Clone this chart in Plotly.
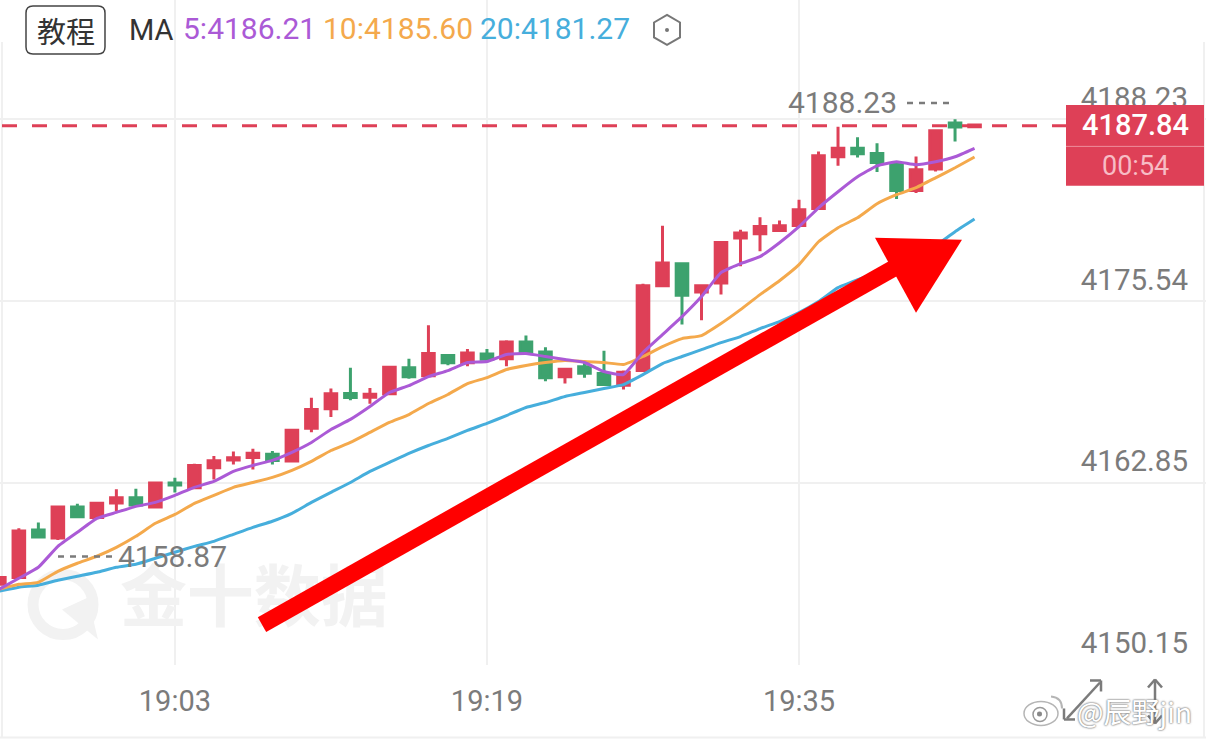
import plotly.graph_objects as go
import pandas as pd

W = 1206
H = 742
PLOT_BOTTOM = 665.5

times = [str(t) for t in pd.date_range('2025-01-06 18:54', periods=51, freq='min')]

opens = [4155.78, 4156.25, 4159.57, 4159.01, 4161.17, 4160.45, 4161.45, 4161.83, 4161.17, 4162.85,
         4162.52, 4163.92, 4164.45, 4164.64, 4164.85, 4164.38, 4166.68, 4168.03, 4169.10, 4168.84,
         4169.08, 4170.89, 4170.33, 4171.75, 4171.24, 4171.86, 4171.52, 4172.70, 4172.00, 4170.26,
         4170.96, 4170.49, 4169.68, 4170.70, 4176.62, 4178.16, 4176.19, 4176.81, 4179.95, 4180.25,
         4180.48, 4180.83, 4182.01, 4185.62, 4186.22, 4185.85, 4185.11, 4183.27, 4184.76, 4187.97,
         4187.72]
closes = [4156.25, 4159.50, 4159.08, 4161.17, 4160.50, 4161.43, 4161.83, 4161.31, 4162.85, 4162.71,
          4164.08, 4164.41, 4164.62, 4164.92, 4164.43, 4166.54, 4167.98, 4169.08, 4168.82, 4169.05,
          4170.93, 4170.26, 4171.89, 4171.24, 4171.93, 4171.49, 4172.70, 4172.00, 4170.19, 4170.79,
          4170.51, 4169.72, 4170.58, 4176.62, 4178.21, 4175.95, 4176.62, 4179.64, 4180.30, 4180.76,
          4180.81, 4181.92, 4185.69, 4186.22, 4185.83, 4185.22, 4183.27, 4184.71, 4187.43, 4187.69,
          4187.84]
highs = [4156.25, 4159.69, 4160.09, 4161.17, 4161.41, 4161.43, 4162.41, 4162.45, 4162.91, 4163.22,
         4164.20, 4164.73, 4165.05, 4165.24, 4165.08, 4166.54, 4168.80, 4169.45, 4170.89, 4169.49,
         4171.00, 4171.52, 4173.86, 4171.82, 4172.21, 4172.21, 4172.81, 4173.14, 4172.32, 4170.89,
         4171.24, 4172.09, 4170.70, 4176.76, 4180.81, 4178.16, 4176.62, 4179.74, 4180.53, 4181.39,
         4181.18, 4182.62, 4185.99, 4187.71, 4186.99, 4186.57, 4185.18, 4185.64, 4187.43, 4188.23,
         4187.84]
lows = [4155.78, 4156.25, 4158.99, 4158.87, 4160.50, 4160.45, 4160.89, 4161.31, 4161.17, 4162.18,
        4162.52, 4163.10, 4164.15, 4163.80, 4164.15, 4164.38, 4166.40, 4167.45, 4168.63, 4168.38,
        4169.08, 4170.12, 4170.33, 4171.07, 4171.00, 4171.28, 4171.00, 4172.00, 4169.95, 4169.79,
        4170.19, 4169.72, 4169.38, 4170.70, 4176.53, 4173.91, 4174.21, 4176.00, 4177.97, 4179.02,
        4180.37, 4180.83, 4182.01, 4184.99, 4185.57, 4184.55, 4182.67, 4183.09, 4184.59, 4186.68,
        4187.72]

ma5 = [4155.44, 4156.20, 4156.97, 4158.43, 4159.41, 4160.38, 4160.80, 4161.22, 4161.50, 4161.99,
       4162.55, 4162.96, 4163.66, 4164.08, 4164.43, 4164.99, 4165.68, 4166.59, 4167.29, 4168.19,
       4169.17, 4169.65, 4170.28, 4170.70, 4171.26, 4171.33, 4171.82, 4171.89, 4171.68, 4171.47,
       4171.26, 4170.63, 4170.42, 4171.96, 4173.21, 4174.46, 4175.86, 4177.53, 4178.16, 4178.65,
       4179.62, 4180.74, 4182.06, 4183.18, 4184.22, 4184.99, 4185.27, 4185.06, 4185.27, 4185.62,
       4186.21]
ma10 = [4155.44, 4155.78, 4155.92, 4156.69, 4157.25, 4157.74, 4158.36, 4159.13, 4160.04, 4160.66,
        4161.43, 4161.99, 4162.55, 4162.89, 4163.24, 4163.73, 4164.36, 4165.12, 4165.68, 4166.38,
        4167.08, 4167.63, 4168.40, 4169.03, 4169.79, 4170.21, 4170.77, 4171.05, 4171.26, 4171.40,
        4171.33, 4171.26, 4171.12, 4171.68, 4172.37, 4172.93, 4173.14, 4173.98, 4174.95, 4176.00,
        4176.97, 4178.09, 4179.69, 4180.67, 4181.36, 4182.34, 4182.97, 4183.46, 4184.15, 4184.85,
        4185.60]
ma20 = [4155.30, 4155.58, 4155.72, 4156.06, 4156.34, 4156.62, 4156.97, 4157.18, 4157.60, 4158.02,
        4158.43, 4158.78, 4159.27, 4159.76, 4160.18, 4160.73, 4161.50, 4162.20, 4162.89, 4163.66,
        4164.29, 4164.92, 4165.47, 4165.96, 4166.52, 4167.01, 4167.56, 4168.12, 4168.47, 4168.89,
        4169.17, 4169.45, 4169.72, 4170.42, 4171.19, 4171.68, 4172.16, 4172.65, 4173.07, 4173.63,
        4174.12, 4174.74, 4175.51, 4176.49, 4177.04, 4177.53, 4178.09, 4178.58, 4179.41, 4180.39,
        4181.27]

y_ticks = [4188.23, 4175.54, 4162.85, 4150.15]
x_ticks = ['2025-01-06 19:03', '2025-01-06 19:19', '2025-01-06 19:35']
x_labels = ['19:03', '19:19', '19:35']

RED = '#DE4057'
GREEN = '#3DA26E'
PURPLE = '#AB5AD6'
ORANGE = '#F4A94C'
BLUE = '#46AEDC'
GREY = '#7B7B7B'
GRID = '#F0F0F0'
MARK = '#F2F2F2'
FONT = 'Roboto'


# decorations are placed by screen pixel, data marks go through the axes
def px(x):
    return x / W


def py(y):
    return 1 - y / PLOT_BOTTOM


def pt(x, y):
    return f'{px(x):.5f},{py(y):.5f}'


def poly(points, **kw):
    path = 'M ' + ' L '.join(pt(x, y) for x, y in points) + ' Z'
    return dict(type='path', path=path, xref='paper', yref='paper', layer='above', **kw)


def rounded(x0, y0, x1, y1, r, color):
    path = (f'M {pt(x0 + r, y0)} L {pt(x1 - r, y0)} Q {pt(x1, y0)} {pt(x1, y0 + r)} L {pt(x1, y1 - r)} '
            f'Q {pt(x1, y1)} {pt(x1 - r, y1)} L {pt(x0 + r, y1)} Q {pt(x0, y1)} {pt(x0, y1 - r)} '
            f'L {pt(x0, y0 + r)} Q {pt(x0, y0)} {pt(x0 + r, y0)} Z')
    return dict(type='path', path=path, xref='paper', yref='paper', layer='above',
                line=dict(color=color, width=1.5))


def arc(x0, y0, cx, cy, x1, y1, color, width):
    return dict(type='path', path=f'M {pt(x0, y0)} Q {pt(cx, cy)} {pt(x1, y1)}', xref='paper', yref='paper',
                layer='above', line=dict(color=color, width=width))


def seg(x0, y0, x1, y1, color, width, dash='solid', layer='above'):
    return dict(type='line', xref='paper', yref='paper', x0=px(x0), y0=py(y0), x1=px(x1), y1=py(y1),
                line=dict(color=color, width=width, dash=dash), layer=layer)


def dot(x0, y0, x1, y1, fill, line=None, lw=0, layer='above'):
    return dict(type='circle', xref='paper', yref='paper', x0=px(x0), x1=px(x1), y0=py(y0), y1=py(y1),
                fillcolor=fill, line=dict(color=line, width=lw), layer=layer)


def text(x, y, s, color=GREY, size=30, anchor='left', **font):
    return dict(text=s, x=px(x), y=py(y), xref='paper', yref='paper', xanchor=anchor, yanchor='middle',
                showarrow=False, font=dict(family=font.pop('family', FONT), size=size, color=color, **font))


fig = go.Figure()
# watermark sits under everything, so it is a trace and not an annotation
fig.add_trace(go.Scatter(x=['2025-01-06 19:07:03'], y=[4154.39], mode='text', text=['金十数据'],
                         textposition='middle center',
                         textfont=dict(family='Noto Sans CJK SC', size=67, color=MARK, weight=700)))
fig.add_trace(go.Candlestick(x=times, open=opens, high=highs, low=lows, close=closes, whiskerwidth=0,
                             increasing=dict(line=dict(color=RED, width=3), fillcolor=RED),
                             decreasing=dict(line=dict(color=GREEN, width=3), fillcolor=GREEN)))
for name, vals, color in [('MA20', ma20, BLUE), ('MA10', ma10, ORANGE), ('MA5', ma5, PURPLE)]:
    fig.add_trace(go.Scatter(x=times, y=vals, name=name, mode='lines',
                             line=dict(color=color, width=3, shape='spline', smoothing=0.4)))

shapes = [
    # frame
    seg(2, 0, 2, 738, GRID, 2, layer='below'),
    seg(1204, 0, 1204, 738, GRID, 2, layer='below'),
    seg(0, 738, 1206, 738, GRID, 2, layer='below'),
    # header strip hides the grid lines
    dict(type='rect', xref='paper', yref='paper', x0=0, x1=1, y0=py(42), y1=1, fillcolor='white',
         line=dict(width=0), layer='between'),
    # last price line
    dict(type='line', xref='paper', yref='y', x0=px(2), x1=px(1066), y0=4187.78, y1=4187.78,
         line=dict(color=RED, width=3, dash='15px,15px'), layer='above'),
    # last price box
    dict(type='rect', xref='paper', yref='paper', x0=px(1066), x1=px(1204), y0=py(105), y1=py(186),
         fillcolor=RED, line=dict(width=0), layer='above'),
    seg(1066, 146.5, 1204, 146.5, '#EE8E9C', 1),
    # high / low dashes
    seg(907, 103, 952, 103, GREY, 2.5, '6px,6px'),
    seg(58, 557, 114, 557, GREY, 2.5, '6px,6px'),
    # hand drawn red arrow
    seg(262, 625, 905, 262, '#FF0000', 17),
    poly([(875, 238), (962, 240), (916, 313)], fillcolor='#FF0000', line=dict(width=0)),
    # tutorial button
    rounded(26, 6, 105, 54, 7, '#444444'),
    # hexagon icon
    poly([(667, 15), (680, 22.5), (680, 37.5), (667, 45), (654, 37.5), (654, 22.5)],
         line=dict(color='#777777', width=2), fillcolor='rgba(0,0,0,0)'),
    dot(665, 28, 669, 32, '#777777'),
    # watermark logo
    dot(33, 575, 93, 635, 'rgba(0,0,0,0)', MARK, 11, 'below'),
    dict(type='path', xref='paper', yref='paper', layer='below', fillcolor=MARK, line=dict(width=0),
         path=f'M {pt(62, 610)} L {pt(98, 640)} L {pt(88, 598)} Z'),
    # expand icons
    seg(1067, 719, 1100, 683, GREY, 2.5),
    seg(1090, 681, 1101, 681, GREY, 2.5),
    seg(1101, 681, 1101, 692, GREY, 2.5),
    seg(1064, 720, 1075, 720, GREY, 2.5),
    seg(1064, 720, 1064, 709, GREY, 2.5),
    seg(1155, 680, 1155, 724, GREY, 2.5),
    seg(1148, 688, 1155, 680, GREY, 2.5),
    seg(1162, 688, 1155, 680, GREY, 2.5),
    seg(1148, 716, 1155, 724, GREY, 2.5),
    seg(1162, 716, 1155, 724, GREY, 2.5),
    # weibo logo
    dot(1024, 702, 1058, 726, 'rgba(255,255,255,0.9)', '#B5B5B5', 1.5),
    dot(1033, 708, 1047, 722, '#FFFFFF', '#999999', 1.5),
    dot(1037, 712, 1042, 717, '#888888'),
    arc(1051, 697, 1062, 698, 1062, 709, '#B5B5B5', 2),
]

annotations = [
    text(66, 30, '教程', '#333333', 29, 'center', family='Noto Sans CJK SC'),
    text(127, 30, 'MA', '#333333', 29),
    text(181, 29, '5:4186.21', PURPLE, 30),
    text(321, 29, '10:4185.60', ORANGE, 30),
    text(478, 29, '20:4181.27', BLUE, 30),
    text(842, 103, '4188.23', GREY, 30, 'center'),
    text(172, 557, '4158.87', GREY, 30, 'center'),
    text(1135, 125, '4187.84', '#FFFFFF', 29, 'center', weight=500),
    text(1135, 166, '00:54', '#F7BCC5', 27, 'center'),
    text(1134, 712, '@辰野jin', '#FFFFFF', 28, 'center', family='Noto Sans CJK SC',
         shadow='0 0 2px #777777, 0 0 2px #777777'),
]

fig.update_layout(
    width=W, height=H, autosize=False,
    margin=dict(l=0, r=0, t=0, b=H - PLOT_BOTTOM, pad=0),
    paper_bgcolor='white', plot_bgcolor='white',
    showlegend=False, boxgap=0.15,
    shapes=shapes, annotations=annotations,
)
fig.update_xaxes(type='date', rangeslider_visible=False, range=['2025-01-06 18:54:02', '2025-01-06 19:55:52'],
                 tickmode='array', tickvals=x_ticks, ticktext=x_labels, ticks='', ticklabelstandoff=16,
                 tickfont=dict(family=FONT, size=29, color=GREY),
                 showgrid=True, gridcolor=GRID, gridwidth=1.5, zeroline=False, showline=False)
fig.update_yaxes(side='right', range=[4150.15, 4196.56], tickmode='array', tickvals=y_ticks,
                 ticktext=[f'{v:.2f}' for v in y_ticks], ticks='', ticklabelposition='inside',
                 ticklabelstandoff=15, ticklabelshift=-22,
                 tickfont=dict(family=FONT, size=29.5, color=GREY),
                 showgrid=True, gridcolor=GRID, gridwidth=1.5, zeroline=False, showline=False)

# browser default body margin would push the figure 8px off the page
fig.write_html("out.html", config=dict(displayModeBar=False),
               post_script="document.body.style.margin='0';")
